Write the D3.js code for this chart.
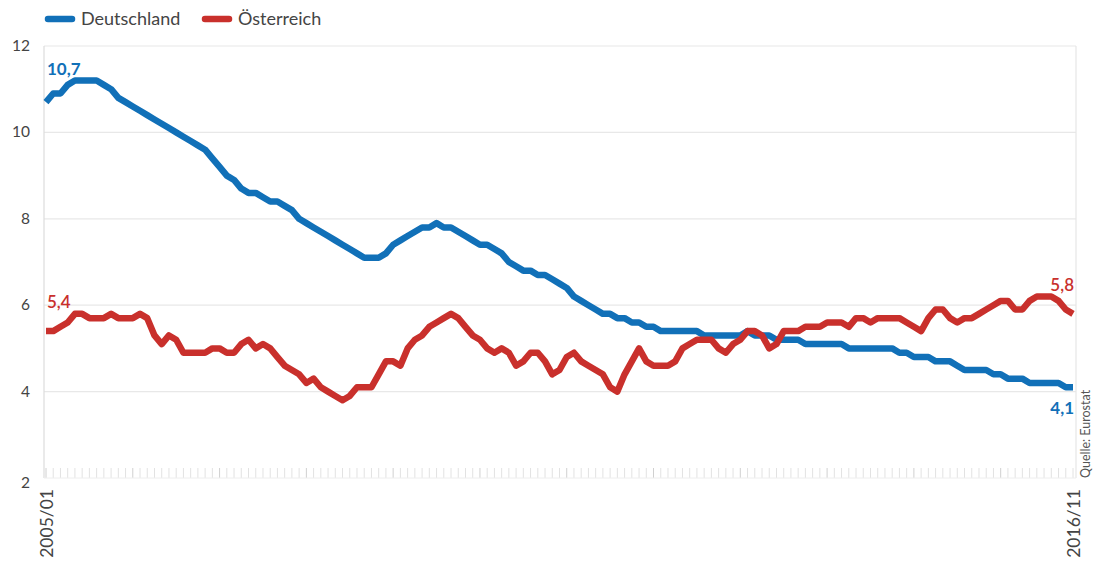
<!DOCTYPE html>
<html>
<head>
<meta charset="utf-8">
<script src="https://cdn.jsdelivr.net/npm/d3@7"></script>
<style>
  body { margin: 0; background: #fff; }
  text { font-family: Lato, "Open Sans", sans-serif; }
</style>
</head>
<body>
<svg id="chart" width="1093" height="563"></svg>
<script>
// monthly unemployment rate in %, 2005/01 .. 2016/11
var firstMonth = "2005/01";
var lastMonth = "2016/11";
var yTicks = [2, 4, 6, 8, 10, 12];

var deutschland = [
  10.7, 10.9, 10.9, 11.1, 11.2, 11.2, 11.2, 11.2, 11.1, 11.0, 10.8, 10.7,
  10.6, 10.5, 10.4, 10.3, 10.2, 10.1, 10.0, 9.9, 9.8, 9.7, 9.6, 9.4,
  9.2, 9.0, 8.9, 8.7, 8.6, 8.6, 8.5, 8.4, 8.4, 8.3, 8.2, 8.0,
  7.9, 7.8, 7.7, 7.6, 7.5, 7.4, 7.3, 7.2, 7.1, 7.1, 7.1, 7.2,
  7.4, 7.5, 7.6, 7.7, 7.8, 7.8, 7.9, 7.8, 7.8, 7.7, 7.6, 7.5,
  7.4, 7.4, 7.3, 7.2, 7.0, 6.9, 6.8, 6.8, 6.7, 6.7, 6.6, 6.5,
  6.4, 6.2, 6.1, 6.0, 5.9, 5.8, 5.8, 5.7, 5.7, 5.6, 5.6, 5.5,
  5.5, 5.4, 5.4, 5.4, 5.4, 5.4, 5.4, 5.3, 5.3, 5.3, 5.3, 5.3,
  5.3, 5.4, 5.3, 5.3, 5.3, 5.2, 5.2, 5.2, 5.2, 5.1, 5.1, 5.1,
  5.1, 5.1, 5.1, 5.0, 5.0, 5.0, 5.0, 5.0, 5.0, 5.0, 4.9, 4.9,
  4.8, 4.8, 4.8, 4.7, 4.7, 4.7, 4.6, 4.5, 4.5, 4.5, 4.5, 4.4,
  4.4, 4.3, 4.3, 4.3, 4.2, 4.2, 4.2, 4.2, 4.2, 4.1, 4.1
];

var oesterreich = [
  5.4, 5.4, 5.5, 5.6, 5.8, 5.8, 5.7, 5.7, 5.7, 5.8, 5.7, 5.7,
  5.7, 5.8, 5.7, 5.3, 5.1, 5.3, 5.2, 4.9, 4.9, 4.9, 4.9, 5.0,
  5.0, 4.9, 4.9, 5.1, 5.2, 5.0, 5.1, 5.0, 4.8, 4.6, 4.5, 4.4,
  4.2, 4.3, 4.1, 4.0, 3.9, 3.8, 3.9, 4.1, 4.1, 4.1, 4.4, 4.7,
  4.7, 4.6, 5.0, 5.2, 5.3, 5.5, 5.6, 5.7, 5.8, 5.7, 5.5, 5.3,
  5.2, 5.0, 4.9, 5.0, 4.9, 4.6, 4.7, 4.9, 4.9, 4.7, 4.4, 4.5,
  4.8, 4.9, 4.7, 4.6, 4.5, 4.4, 4.1, 4.0, 4.4, 4.7, 5.0, 4.7,
  4.6, 4.6, 4.6, 4.7, 5.0, 5.1, 5.2, 5.2, 5.2, 5.0, 4.9, 5.1,
  5.2, 5.4, 5.4, 5.3, 5.0, 5.1, 5.4, 5.4, 5.4, 5.5, 5.5, 5.5,
  5.6, 5.6, 5.6, 5.5, 5.7, 5.7, 5.6, 5.7, 5.7, 5.7, 5.7, 5.6,
  5.5, 5.4, 5.7, 5.9, 5.9, 5.7, 5.6, 5.7, 5.7, 5.8, 5.9, 6.0,
  6.1, 6.1, 5.9, 5.9, 6.1, 6.2, 6.2, 6.2, 6.1, 5.9, 5.8
];

var seriesNames = ["Deutschland", "Österreich"];
var seriesColors = ["#1170b8", "#c9302c"];

var svg = d3.select("#chart");
var n = deutschland.length;

var x = d3.scaleLinear().domain([0, n - 1]).range([46, 1073]);
var y = d3.scaleLinear().domain([2, 12]).range([478, 46]);

// grid lines
svg.selectAll(".grid")
  .data(yTicks.filter(function (t) { return t > 2; }))
  .enter()
  .append("line")
  .attr("class", "grid")
  .attr("x1", 44)
  .attr("x2", 1076)
  .attr("y1", function (t) { return y(t); })
  .attr("y2", function (t) { return y(t); })
  .style("stroke", "#e8e8e8")
  .style("stroke-width", 1.2);

// frame left / right
svg.append("line")
  .attr("x1", 44).attr("x2", 44)
  .attr("y1", y(12)).attr("y2", y(2))
  .style("stroke", "#dcdcdc").style("stroke-width", 1.2);
svg.append("line")
  .attr("x1", 1076).attr("x2", 1076)
  .attr("y1", y(12)).attr("y2", y(2))
  .style("stroke", "#e6e6e6").style("stroke-width", 1.2);

// month ticks along the bottom
svg.selectAll(".mtick")
  .data(d3.range(n))
  .enter()
  .append("line")
  .attr("class", "mtick")
  .attr("x1", function (i) { return x(i); })
  .attr("x2", function (i) { return x(i); })
  .attr("y1", y(2) - 10)
  .attr("y2", y(2))
  .style("stroke", function (i) { return i % 12 === 0 ? "#d0d0d0" : "#e2e2e2"; })
  .style("stroke-width", 1);

svg.append("line")
  .attr("x1", 44).attr("x2", 1076)
  .attr("y1", y(2)).attr("y2", y(2))
  .style("stroke", "#eeeeee").style("stroke-width", 1);

// y labels
svg.selectAll(".ylab")
  .data(yTicks)
  .enter()
  .append("text")
  .attr("class", "ylab")
  .attr("x", 30)
  .attr("y", function (t) { return y(t) + (t === 2 ? 10 : 5); })
  .attr("text-anchor", "end")
  .style("font-size", "15.5px")
  .style("fill", "#444")
  .text(function (t) { return t; });

// x labels (rotated)
[[0, firstMonth], [n - 1, lastMonth]].forEach(function (d) {
  svg.append("text")
    .attr("transform", "translate(" + (x(d[0]) + 7) + ",489) rotate(-90)")
    .attr("text-anchor", "end")
    .style("font-size", "17.5px")
    .style("fill", "#444")
    .text(d[1]);
});

// source
svg.append("text")
  .attr("transform", "translate(1090,478) rotate(-90)")
  .attr("text-anchor", "start")
  .style("font-size", "12.5px")
  .style("fill", "#555")
  .text("Quelle: Eurostat");

// lines
var line = d3.line()
  .x(function (v, i) { return x(i); })
  .y(function (v) { return y(v); });

[deutschland, oesterreich].forEach(function (s, k) {
  svg.append("path")
    .datum(s)
    .attr("d", line)
    .style("fill", "none")
    .style("stroke", seriesColors[k])
    .style("stroke-width", 6.5)
    .style("stroke-linejoin", "round");
});

// value labels at start and end
var fmt = function (v) { return d3.format(".1f")(v).replace(".", ","); };
svg.append("text")
  .attr("x", x(0) + 1).attr("y", y(deutschland[0]) - 27)
  .style("font-size", "17px").style("font-weight", "bold")
  .style("fill", seriesColors[0])
  .text(fmt(deutschland[0]));
svg.append("text")
  .attr("x", x(0) + 1).attr("y", y(oesterreich[0]) - 23)
  .style("font-size", "17px").style("font-weight", "600")
  .style("fill", seriesColors[1])
  .text(fmt(oesterreich[0]));
svg.append("text")
  .attr("x", x(n - 1) + 1).attr("y", y(oesterreich[n - 1]) - 23)
  .attr("text-anchor", "end")
  .style("font-size", "17px").style("font-weight", "600")
  .style("fill", seriesColors[1])
  .text(fmt(oesterreich[n - 1]));
svg.append("text")
  .attr("x", x(n - 1) + 1).attr("y", y(deutschland[n - 1]) + 27)
  .attr("text-anchor", "end")
  .style("font-size", "17px").style("font-weight", "bold")
  .style("fill", seriesColors[0])
  .text(fmt(deutschland[n - 1]));

// legend
var legendX = [45, 202];
seriesNames.forEach(function (name, k) {
  svg.append("line")
    .attr("x1", legendX[k] + 3).attr("x2", legendX[k] + 27)
    .attr("y1", 19).attr("y2", 19)
    .style("stroke", seriesColors[k])
    .style("stroke-width", 6.5)
    .style("stroke-linecap", "round");
  svg.append("text")
    .attr("x", legendX[k] + 36).attr("y", 25)
    .style("font-size", "18px")
    .style("fill", "#444")
    .text(name);
});
</script>
</body>
</html>
